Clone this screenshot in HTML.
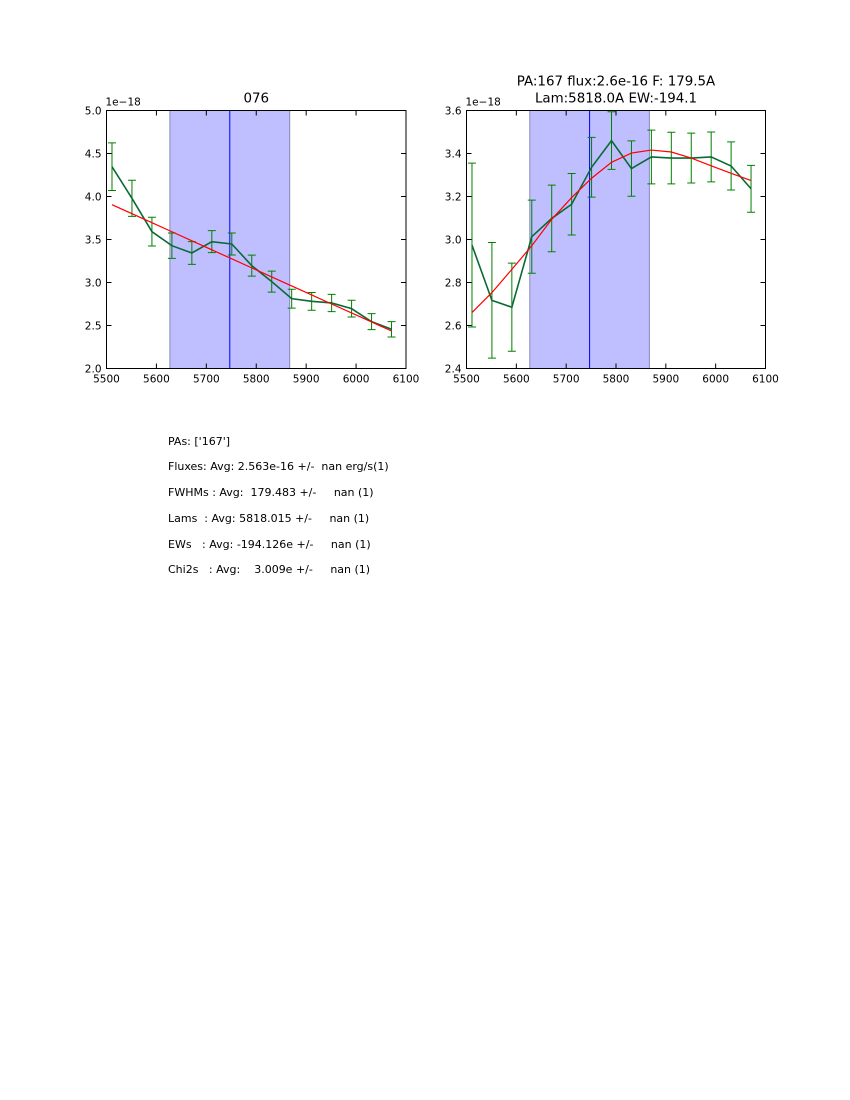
<!DOCTYPE html>
<html><head><meta charset="utf-8"><style>
body{margin:0;background:#fff;width:850px;height:1100px;overflow:hidden;position:relative;font-family:"DejaVu Sans","Liberation Sans",sans-serif}
svg{position:absolute;left:0;top:0}
.info{position:absolute;left:168px;font-size:11px;white-space:pre;color:#000;line-height:13px}
</style></head><body>
<svg id="fig" width="850" height="1100"></svg>
<div class="info" style="top:435px">PAs: ['167']</div>
<div class="info" style="top:460px">Fluxes: Avg: 2.563e-16 +/-  nan erg/s(1)</div>
<div class="info" style="top:486px">FWHMs : Avg:  179.483 +/-     nan (1)</div>
<div class="info" style="top:512px">Lams  : Avg: 5818.015 +/-     nan (1)</div>
<div class="info" style="top:538px">EWs   : Avg: -194.126e +/-     nan (1)</div>
<div class="info" style="top:563px">Chi2s   : Avg:    3.009e +/-     nan (1)</div>
<script>
const lams=[5511,5551,5591,5631,5671,5711,5751,5791,5831,5871,5911,5951,5991,6031,6071];
const leftFlux=[4.347,3.979,3.591,3.428,3.343,3.475,3.448,3.196,3.010,2.812,2.781,2.762,2.696,2.545,2.456];
const leftErr=[0.277,0.21,0.167,0.147,0.132,0.128,0.128,0.122,0.122,0.11,0.103,0.1,0.097,0.093,0.089];
const leftFit=[3.905,3.800,3.695,3.590,3.485,3.380,3.275,3.170,3.065,2.960,2.855,2.750,2.646,2.541,2.436];
const rightFlux=[2.974,2.717,2.685,3.013,3.098,3.164,3.336,3.460,3.330,3.384,3.379,3.379,3.384,3.342,3.236];
const rightErr=[0.381,0.269,0.205,0.17,0.155,0.143,0.139,0.134,0.129,0.125,0.12,0.116,0.116,0.112,0.109];
const rightFit=[2.660,2.753,2.861,2.971,3.094,3.195,3.285,3.359,3.402,3.416,3.407,3.379,3.343,3.308,3.274];
const xTicks=[5500,5600,5700,5800,5900,6000,6100];
const leftYTicks=[2.0,2.5,3.0,3.5,4.0,4.5,5.0];
const rightYTicks=[2.4,2.6,2.8,3.0,3.2,3.4,3.6];
const span=[5627,5867];
const lineCenter=5747;
const NS="http://www.w3.org/2000/svg";
const svg=document.getElementById('fig');
function mk(tag,attrs,parent){const e=document.createElementNS(NS,tag);for(const k in attrs)e.setAttribute(k,attrs[k]);(parent||svg).appendChild(e);return e;}
function panel(o){
  const g=mk('g',{});
  
  
  const X=v=>o.x0+(v-5500)/600*(o.x1-o.x0);
  const Y=v=>o.y1-(v-o.ymin)/(o.ymax-o.ymin)*(o.y1-o.y0);
  const sp=mk('rect',{x:X(span[0]),y:o.y0,width:X(span[1])-X(span[0]),height:o.y1-o.y0,fill:'#bfbfff',stroke:'#8888bb','stroke-width':1},g);
  
  
  const cl=mk('line',{x1:X(lineCenter),x2:X(lineCenter),y1:o.y0,y2:o.y1,stroke:'#0000ff','stroke-width':1},g);
  
  
  for(let i=0;i<lams.length;i++){
    const x=X(lams[i]),yt=Y(o.flux[i]+o.err[i]),yb=Y(o.flux[i]-o.err[i]);
    const eb=mk('path',{d:`M${x},${yt}V${yb}M${x-4},${yt}H${x+4}M${x-4},${yb}H${x+4}`,stroke:'#008000','stroke-width':1,fill:'none'},g);
    
    
  }
  const dl=mk('polyline',{points:lams.map((l,i)=>X(l)+','+Y(o.flux[i])).join(' '),stroke:'#0a6a35','stroke-width':1.6,fill:'none'},g);
  
  
  const fl=mk('polyline',{points:lams.map((l,i)=>X(l)+','+Y(o.fit[i])).join(' '),stroke:'#ff0000','stroke-width':1.2,fill:'none'},g);
  
  
  const fr=mk('rect',{x:o.x0,y:o.y0,width:o.x1-o.x0,height:o.y1-o.y0,fill:'none',stroke:'#000','stroke-width':1},g);
  
  
  xTicks.forEach(t=>{const x=X(t);
    mk('path',{d:`M${x},${o.y1}v-5M${x},${o.y0}v5`,stroke:'#000','stroke-width':1},g);
    const tx=mk('text',{x:x,y:o.y1+14,'font-size':10.5,'text-anchor':'middle','font-family':'DejaVu Sans, sans-serif'},g);
    tx.textContent=t;
    
    
  });
  o.yticks.forEach(t=>{const y=Y(t);
    mk('path',{d:`M${o.x0},${y}h5M${o.x1},${y}h-5`,stroke:'#000','stroke-width':1},g);
    const ty=mk('text',{x:o.x0-5,y:y+4,'font-size':10.5,'text-anchor':'end','font-family':'DejaVu Sans, sans-serif'},g);
    ty.textContent=t.toFixed(1);
    
    
  });
  const off=mk('text',{x:o.x0-1,y:o.y0-5,'font-size':10.5,'font-family':'DejaVu Sans, sans-serif'},g);
  off.textContent='1e\u221218';
  
  
  o.title.forEach((s,i)=>{const t=mk('text',{x:(o.x0+o.x1)/2,y:o.y0-8-(o.title.length-1-i)*17,'font-size':13.4,'text-anchor':'middle','font-family':'DejaVu Sans, sans-serif'},g);
    t.textContent=s;
    
    
  });
}
panel({name:'left-panel',x0:106.5,x1:406,y0:110.5,y1:368.5,ymin:2,ymax:5,flux:leftFlux,err:leftErr,fit:leftFit,yticks:leftYTicks,title:['076']});
panel({name:'right-panel',x0:466.5,x1:765.5,y0:110.5,y1:368.5,ymin:2.4,ymax:3.6,flux:rightFlux,err:rightErr,fit:rightFit,yticks:rightYTicks,title:['PA:167 flux:2.6e-16 F: 179.5A','Lam:5818.0A EW:-194.1']});
</script>
</body></html>
